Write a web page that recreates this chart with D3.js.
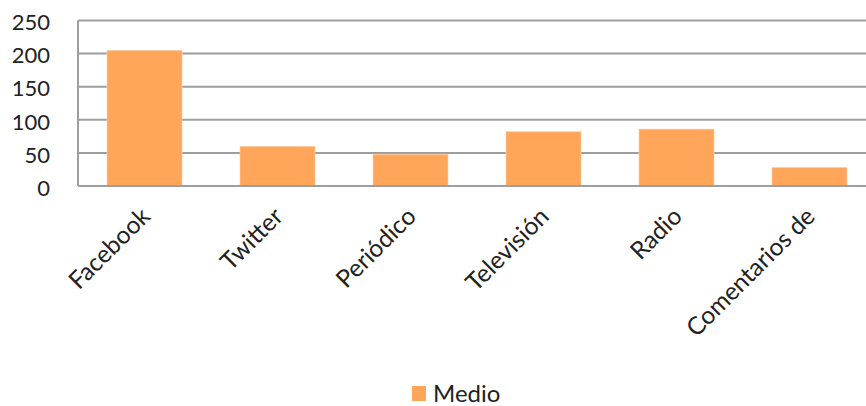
<!DOCTYPE html>
<html><head><meta charset="utf-8">
<script src="https://cdn.jsdelivr.net/npm/d3@7"></script>
<style>body{margin:0;background:#fff}svg{display:block;font-family:Lato,"Open Sans",sans-serif}</style>
</head><body><svg id="c" width="866" height="406"></svg>
<script>
const categories = ["Facebook","Twitter","Periódico","Televisión","Radio","Comentarios de"];
const values = [205, 60, 48, 82, 86, 28];
const yTicks = [0, 50, 100, 150, 200, 250];
const seriesName = "Medio";

(function () {
const svg = d3.select("#c");
const left = 78, right = 866, plotTop = 20.5, plotBottom = 186;
const x = d3.scaleBand().domain(categories).range([78, 876]).paddingInner(0.436).paddingOuter(0.218);
const y = d3.scaleLinear().domain([0, 250]).range([plotBottom, plotTop]);
const grid = "#9e9e9e", orange = "#ffa65a";

svg.append("g").selectAll("line").data(yTicks).join("line")
  .attr("x1", left).attr("x2", right).attr("y1", d => y(d)).attr("y2", d => y(d))
  .attr("stroke", grid).attr("stroke-width", 2);
svg.append("line").attr("x1", left).attr("x2", left).attr("y1", y(250)).attr("y2", y(0))
  .attr("stroke", grid).attr("stroke-width", 2);

svg.append("g").selectAll("rect").data(values).join("rect")
  .attr("x", (d, i) => x(categories[i])).attr("width", x.bandwidth())
  .attr("y", d => y(d)).attr("height", d => y(0) - y(d))
  .attr("fill", orange).attr("stroke", "#ffd3ad").attr("stroke-width", 0.6);
svg.append("line").attr("x1", left).attr("x2", right).attr("y1", y(0)).attr("y2", y(0))
  .attr("stroke", grid).attr("stroke-width", 2);

svg.append("g").selectAll("text").data(yTicks).join("text")
  .attr("x", 50).attr("y", d => y(d) + 2).attr("dy", "0.35em").attr("text-anchor", "end")
  .attr("font-size", 22).attr("fill", "#222").text(d => d);

svg.append("g").selectAll("text").data(categories).join("text")
  .attr("text-anchor", "end")
  .attr("transform", d => `translate(${x(d) + x.bandwidth() / 2 + 7},${218}) rotate(-45)`)
  .attr("font-size", 24.5).attr("fill", "#222").text(d => d);

svg.append("rect").attr("x", 412).attr("y", 386).attr("width", 14).attr("height", 15).attr("fill", orange);
svg.append("text").attr("x", 433).attr("y", 402).attr("font-size", 24).attr("fill", "#222").text(seriesName);
})();
</script></body></html>
